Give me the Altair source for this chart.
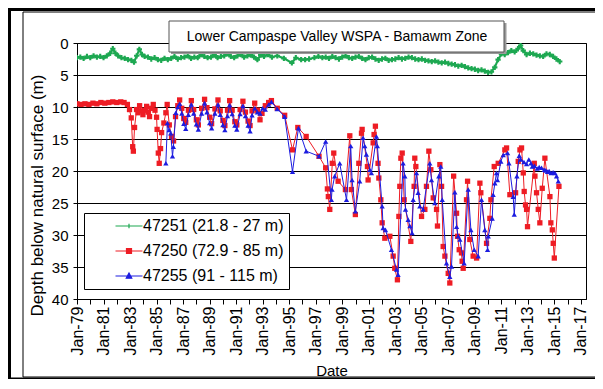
import altair as alt
import pandas as pd

FONT = "Liberation Sans"

series_names = ["47251 (21.8 - 27 m)", "47250 (72.9 - 85 m)", "47255 (91 - 115 m)"]
series_colors = ["#1DA851", "#EE1C24", "#1C1CE0"]
series_shapes = ["cross", "square", "triangle-up"]
legend_paths = [
    "M-2.7,0H2.7M-0.45,0H0.45M0,-0.45V0.45",
    "M-2.7,0H2.7M-0.5,-0.5H0.5V0.5H-0.5Z",
    "M-2.7,0H2.7M0,-0.6L0.55,0.45H-0.55Z",
]
chart_title = ["Lower Campaspe Valley WSPA - Bamawm Zone"]
year_ticks = list(range(1979, 2018))
depth_ticks = [0, 5, 10, 15, 20, 25, 30, 35, 40]

# 47251 (21.8 - 27 m): (decimal year, depth m)
green_points = [
    (1979.0, 2.3), (1979.25, 2.2), (1979.5, 2.4), (1979.75, 2.1), (1980.0, 2.3), (1980.25, 2.0),
    (1980.5, 2.2), (1980.75, 2.1), (1981.0, 2.3), (1981.25, 2.0), (1981.5, 1.6), (1981.7, 0.9),
    (1981.9, 1.6), (1982.1, 2.0), (1982.35, 2.3), (1982.6, 2.4), (1982.85, 2.6), (1983.1, 2.7),
    (1983.3, 3.0), (1983.5, 2.0), (1983.7, 1.0), (1983.9, 1.8), (1984.1, 2.1), (1984.35, 2.2),
    (1984.6, 2.5), (1984.85, 2.3), (1985.1, 2.6), (1985.35, 2.7), (1985.6, 2.4), (1985.85, 2.6),
    (1986.1, 2.4), (1986.35, 2.1), (1986.6, 2.5), (1986.85, 2.3), (1987.1, 2.2), (1987.35, 2.0),
    (1987.6, 2.4), (1987.85, 2.2), (1988.1, 2.3), (1988.35, 1.8), (1988.6, 2.1), (1988.85, 2.3),
    (1989.1, 2.2), (1989.35, 1.9), (1989.6, 2.3), (1989.85, 2.1), (1990.1, 2.0), (1990.35, 1.7),
    (1990.6, 2.1), (1990.85, 2.3), (1991.1, 2.0), (1991.35, 1.8), (1991.6, 2.2), (1991.85, 2.0),
    (1992.1, 1.9), (1992.35, 2.2), (1992.6, 2.6), (1992.85, 1.9), (1993.1, 2.1), (1993.4, 1.8),
    (1993.7, 2.2), (1994.1, 2.0), (1994.6, 2.4), (1995.2, 3.1), (1995.5, 2.3), (1995.9, 2.6),
    (1996.2, 2.6), (1996.5, 2.5), (1996.9, 2.3), (1997.2, 2.1), (1997.5, 2.3), (1997.75, 2.2),
    (1998.0, 2.4), (1998.25, 2.1), (1998.5, 2.3), (1998.75, 2.5), (1999.0, 2.2), (1999.25, 2.0),
    (1999.5, 2.3), (1999.75, 2.4), (2000.0, 2.2), (2000.25, 2.1), (2000.5, 2.4), (2000.75, 2.6),
    (2001.0, 2.3), (2001.25, 2.2), (2001.5, 2.5), (2001.75, 2.7), (2002.0, 2.5), (2002.25, 2.4),
    (2002.5, 2.7), (2002.75, 2.6), (2003.0, 2.5), (2003.25, 2.3), (2003.5, 2.5), (2003.75, 2.4),
    (2004.0, 2.2), (2004.25, 2.3), (2004.5, 2.5), (2004.75, 2.6), (2005.0, 2.5), (2005.25, 2.7),
    (2005.5, 2.8), (2005.75, 2.9), (2006.0, 2.8), (2006.25, 3.0), (2006.5, 3.1), (2006.75, 3.0),
    (2007.0, 3.2), (2007.25, 3.3), (2007.5, 3.4), (2007.75, 3.6), (2008.0, 3.5), (2008.25, 3.7),
    (2008.5, 3.9), (2008.75, 4.0), (2009.0, 4.1), (2009.25, 4.3), (2009.5, 4.2), (2009.75, 4.4),
    (2010.0, 4.6), (2010.25, 4.5), (2010.5, 3.8), (2010.75, 2.6), (2011.0, 1.7), (2011.25, 1.8),
    (2011.5, 1.5), (2011.75, 1.2), (2012.0, 1.4), (2012.25, 0.9), (2012.45, 0.4), (2012.65, 1.2),
    (2012.9, 1.8), (2013.15, 1.6), (2013.4, 1.7), (2013.65, 1.9), (2013.9, 2.0), (2014.15, 2.1),
    (2014.4, 1.7), (2014.65, 1.8), (2014.9, 2.1), (2015.15, 2.5), (2015.4, 2.9),
]

# 47250 (72.9 - 85 m)
red_points = [
    (1979.0, 9.5), (1979.3, 9.6), (1979.6, 9.5), (1979.9, 9.6), (1980.2, 9.4), (1980.5, 9.5),
    (1980.8, 9.3), (1981.1, 9.4), (1981.4, 9.3), (1981.7, 9.2), (1982.0, 9.3), (1982.3, 9.2),
    (1982.55, 9.3), (1982.8, 9.6), (1982.96, 10.4), (1983.09, 11.7), (1983.2, 16.2), (1983.25, 16.9),
    (1983.34, 13.2), (1983.49, 10.4), (1983.6, 10.9), (1983.72, 9.8), (1983.85, 10.6), (1983.97, 11.2),
    (1984.1, 10.5), (1984.25, 9.9), (1984.36, 10.8), (1984.47, 11.5), (1984.6, 10.2), (1984.75, 9.6),
    (1984.88, 10.5), (1985.0, 11.6), (1985.04, 13.5), (1985.13, 17.2), (1985.2, 18.8), (1985.3, 16.5),
    (1985.38, 14.0), (1985.55, 12.5), (1985.7, 10.9), (1985.8, 9.6), (1985.96, 12.8), (1986.13, 14.6),
    (1986.28, 15.3), (1986.43, 11.5), (1986.6, 9.8), (1986.74, 8.9), (1986.9, 10.2), (1987.05, 11.8),
    (1987.2, 12.4), (1987.4, 10.5), (1987.62, 9.0), (1987.8, 10.4), (1988.0, 12.0), (1988.15, 12.8),
    (1988.4, 10.2), (1988.62, 8.8), (1988.8, 10.1), (1989.0, 11.6), (1989.15, 12.6), (1989.4, 10.3),
    (1989.63, 8.9), (1989.8, 10.6), (1990.0, 12.1), (1990.15, 12.9), (1990.35, 10.5), (1990.51, 9.0),
    (1990.7, 10.5), (1990.9, 12.3), (1991.05, 12.8), (1991.3, 10.4), (1991.51, 9.1), (1991.7, 10.8),
    (1991.9, 12.2), (1992.05, 12.9), (1992.2, 10.6), (1992.4, 9.4), (1992.6, 10.5), (1992.8, 12.0),
    (1992.95, 11.0), (1993.2, 9.8), (1993.45, 9.3), (1993.66, 9.0), (1994.1, 10.2), (1994.66, 11.3),
    (1995.25, 16.7), (1995.65, 13.2), (1996.28, 14.6), (1997.25, 17.7), (1997.75, 19.5), (1997.88, 22.8),
    (1997.95, 24.0), (1998.06, 26.0), (1998.25, 18.8), (1998.36, 17.2), (1998.69, 21.6), (1999.24, 22.9),
    (1999.57, 14.5), (1999.69, 22.9), (1999.99, 26.8), (2000.25, 18.8), (2000.45, 14.1), (2000.5, 13.5),
    (2000.9, 19.3), (2000.95, 21.4), (2001.33, 15.6), (2001.4, 14.3), (2001.5, 13.0), (2001.7, 18.8),
    (2001.76, 21.1), (2001.91, 24.5), (2002.01, 28.1), (2002.21, 30.5), (2002.59, 30.2), (2002.84, 33.3),
    (2002.96, 35.2), (2003.16, 37.0), (2003.27, 27.1), (2003.34, 22.4), (2003.42, 18.0), (2003.52, 17.2),
    (2003.67, 24.5), (2004.17, 31.0), (2004.42, 22.4), (2004.47, 18.0), (2004.55, 19.3), (2004.98, 27.1),
    (2005.23, 26.0), (2005.35, 22.4), (2005.53, 16.9), (2005.68, 19.8), (2005.86, 24.2), (2006.11, 26.0),
    (2006.18, 28.6), (2006.36, 19.0), (2006.49, 22.4), (2006.61, 31.8), (2006.74, 33.3), (2006.99, 36.0),
    (2007.11, 37.5), (2007.4, 20.8), (2007.62, 26.6), (2007.69, 30.2), (2007.82, 32.3), (2007.99, 32.8),
    (2008.04, 34.1), (2008.12, 35.2), (2008.37, 24.5), (2008.45, 21.6), (2008.62, 30.7), (2008.87, 33.3),
    (2009.13, 33.6), (2009.38, 21.9), (2009.45, 23.4), (2009.88, 31.3), (2010.13, 27.4), (2010.21, 24.5),
    (2010.46, 19.3), (2010.76, 18.8), (2011.26, 16.7), (2011.39, 16.4), (2011.64, 23.7), (2012.07, 23.4),
    (2012.27, 18.5), (2012.4, 16.7), (2012.52, 16.4), (2012.65, 20.3), (2012.72, 23.2), (2012.82, 25.3),
    (2012.9, 26.0), (2012.97, 28.7), (2013.48, 18.8), (2013.53, 20.8), (2013.65, 23.4), (2013.78, 26.0),
    (2013.9, 28.1), (2014.08, 22.7), (2014.28, 18.0), (2014.66, 24.0), (2014.73, 28.1), (2014.84, 29.2),
    (2014.91, 31.3), (2014.99, 33.6), (2015.34, 22.4),
]

# 47255 (91 - 115 m)
blue_points = [
    (1985.7, 18.8), (1985.82, 12.5), (1985.95, 13.6), (1986.07, 14.1), (1986.2, 17.7), (1986.27, 16.2),
    (1986.45, 10.9), (1986.6, 10.0), (1986.74, 9.5), (1986.9, 11.0), (1987.05, 12.6), (1987.2, 13.4),
    (1987.4, 11.2), (1987.62, 9.6), (1987.8, 11.0), (1988.0, 12.7), (1988.15, 13.5), (1988.4, 11.0),
    (1988.62, 9.4), (1988.8, 10.8), (1989.0, 12.5), (1989.15, 13.3), (1989.4, 11.0), (1989.63, 9.6),
    (1989.8, 11.2), (1990.0, 12.8), (1990.15, 13.6), (1990.35, 11.4), (1990.51, 9.7), (1990.7, 11.1),
    (1990.9, 12.9), (1991.05, 13.5), (1991.3, 11.1), (1991.51, 9.8), (1991.7, 11.4), (1991.9, 12.9),
    (1992.05, 13.8), (1992.2, 11.3), (1992.4, 10.2), (1992.6, 10.8), (1992.8, 11.0), (1993.0, 10.2),
    (1993.2, 10.4), (1993.45, 9.6), (1993.66, 9.2), (1994.1, 10.3), (1994.66, 11.5), (1995.25, 20.1),
    (1995.7, 13.3), (1996.28, 16.9), (1997.25, 17.7), (1997.75, 15.4), (1998.18, 24.5), (1998.23, 22.9),
    (1998.43, 20.8), (1998.81, 18.8), (1999.32, 24.5), (1999.64, 16.1), (1999.74, 21.4), (1999.99, 26.3),
    (2000.32, 21.6), (2000.57, 14.8), (2000.7, 16.1), (2000.82, 17.4), (2001.08, 19.8), (2001.2, 20.3),
    (2001.58, 14.6), (2001.65, 16.1), (2002.01, 25.5), (2002.08, 28.9), (2002.26, 29.2), (2002.71, 32.3),
    (2003.09, 35.4), (2003.21, 36.2), (2003.59, 18.8), (2003.72, 20.8), (2003.77, 26.0), (2003.97, 27.6),
    (2004.1, 28.6), (2004.27, 29.7), (2004.35, 24.5), (2004.6, 20.3), (2004.72, 23.4), (2004.85, 25.5),
    (2005.1, 26.0), (2005.6, 18.8), (2005.73, 21.4), (2005.98, 25.0), (2006.28, 20.8), (2006.43, 19.3),
    (2006.54, 24.5), (2006.86, 34.4), (2007.11, 36.5), (2007.24, 34.9), (2007.49, 23.3), (2007.62, 28.7),
    (2007.74, 30.2), (2007.87, 30.7), (2008.19, 34.4), (2008.5, 22.9), (2008.7, 29.2), (2008.95, 32.3),
    (2009.25, 33.3), (2009.5, 24.5), (2009.75, 29.2), (2009.96, 32.3), (2010.01, 30.2), (2010.31, 27.4),
    (2010.38, 23.7), (2010.51, 21.9), (2010.63, 20.3), (2010.71, 21.4), (2010.96, 18.5), (2011.14, 17.5),
    (2011.47, 17.2), (2011.57, 18.8), (2011.89, 24.0), (2011.97, 26.8), (2012.17, 20.8), (2012.35, 17.6),
    (2012.47, 18.2), (2012.7, 18.6), (2012.9, 18.9), (2013.07, 18.2), (2013.23, 18.8), (2013.33, 19.3),
    (2013.5, 19.2), (2013.7, 19.6), (2013.85, 19.4), (2014.03, 19.5), (2014.23, 19.8), (2014.35, 19.9),
    (2014.48, 20.1), (2014.6, 20.0), (2014.75, 20.3), (2014.9, 20.2), (2015.04, 20.3), (2015.16, 20.8),
    (2015.29, 21.6),
]

series_points = [green_points, red_points, blue_points]
frames = []
for name, pts in zip(series_names, series_points):
    frames.append(pd.DataFrame({"year": [p[0] for p in pts], "depth": [p[1] for p in pts], "series": name}))
df = pd.concat(frames, ignore_index=True)

W, H = 509, 256

x_enc = alt.X(
    "year:Q",
    scale=alt.Scale(domain=[1979, 2017.38], nice=False, zero=False),
    axis=alt.Axis(
        values=year_ticks,
        labelExpr="datum.value % 2 == 1 ? 'Jan-' + substring(toString(datum.value), 2, 4) : ''",
        labelAngle=-90, labelOverlap=False, labelFlush=False, labelBound=False,
        tickSize=5, labelPadding=2, labelFontSize=16,
        grid=False, title="Date", titlePadding=9, titleFontSize=15,
    ),
)
y_enc = alt.Y(
    "depth:Q",
    scale=alt.Scale(domain=[0, 40], reverse=True, nice=False, zero=False),
    axis=alt.Axis(values=depth_ticks, grid=True, tickSize=4, labelPadding=5, labelOverlap=False,
                  labelFlush=False, labelFontSize=15, titleFontSize=17,
                  title="Depth below natural surface (m)", titleX=-31, titleY=152),
)

# colour scale for the drawn data (data-driven domain, sorted: 47250, 47251, 47255)
sorted_colors = [c for _, c in sorted(zip(series_names, series_colors))]
color_scale = alt.Scale(range=sorted_colors)

base = alt.Chart(df)
line_widths = [2.2, 1, 1]
line_layers = []
point_layers = []
for name, shp, lw in zip(series_names, series_shapes, line_widths):
    sub = base.transform_filter(alt.datum.series == name)
    line_layers.append(
        sub.mark_line(strokeWidth=lw, clip=True).encode(
            x=x_enc, y=y_enc, color=alt.Color("series:N", scale=color_scale, legend=None), order="year:Q")
    )
    point_layers.append(
        sub.mark_point(shape=shp, filled=True, size=28, opacity=1, clip=True)
        .encode(x=x_enc, y=y_enc, color=alt.Color("series:N", scale=color_scale, legend=None))
    )

leg = alt.Legend(orient="none", legendX=7, legendY=170, fillColor="white", strokeColor="black",
                 padding=5, labelFontSize=16, labelFont=FONT, labelColor="black", symbolSize=100,
                 symbolOffset=32, labelOffset=6, rowPadding=9, symbolStrokeWidth=1.2, labelLimit=400)
legend_layer = base.mark_point(filled=True, size=0, strokeWidth=1.2, opacity=1).encode(
    x=x_enc, y=y_enc,
    fill=alt.Fill("series:N", scale=alt.Scale(domain=series_names, range=series_colors), legend=leg, title=None),
    stroke=alt.Stroke("series:N", scale=alt.Scale(domain=series_names, range=series_colors), legend=leg, title=None),
    shape=alt.Shape("series:N", scale=alt.Scale(domain=series_names, range=legend_paths), legend=leg, title=None),
)

one = alt.Chart(pd.DataFrame({"t": chart_title}))
outer = one.mark_rect(fill="white", fillOpacity=0, stroke="black", strokeWidth=3).encode(
    x=alt.value(-67.5), x2=alt.value(540), y=alt.value(-33.5), y2=alt.value(336))
inner = one.mark_rect(fill="white", fillOpacity=0, stroke="black", strokeWidth=1).encode(
    x=alt.value(-54), x2=alt.value(540), y=alt.value(-31), y2=alt.value(334))
shadow = one.mark_rect(fill="#9a9a9a").encode(
    x=alt.value(94), x2=alt.value(429.5), y=alt.value(-20), y2=alt.value(11))
tbox = one.mark_rect(fill="white", stroke="#555555", strokeWidth=1).encode(
    x=alt.value(92), x2=alt.value(427), y=alt.value(-22), y2=alt.value(9))
ttext = one.mark_text(fontSize=14, font=FONT, color="black", align="center", baseline="middle").encode(
    x=alt.value(260), y=alt.value(-6.5), text="t:N")

chart = alt.layer(
    outer, inner, *line_layers[:1], *point_layers[:1], line_layers[1], point_layers[1],
    line_layers[2], point_layers[2], legend_layer, shadow, tbox, ttext
).properties(
    width=W, height=H,
    autosize=alt.AutoSizeParams(type="none"),
    padding={"left": 69, "top": 35, "right": 9, "bottom": 80},
    background="white",
).configure_view(
    stroke="black", strokeWidth=1
).configure_axis(
    gridColor="black", gridOpacity=1, gridWidth=1,
    domainColor="black", domainWidth=1, tickColor="black", tickWidth=1,
    labelColor="black", labelFont=FONT,
    titleColor="black", titleFont=FONT, titleFontWeight="normal",
)

chart.save("out.html", embed_options={"renderer": "svg", "actions": False})
